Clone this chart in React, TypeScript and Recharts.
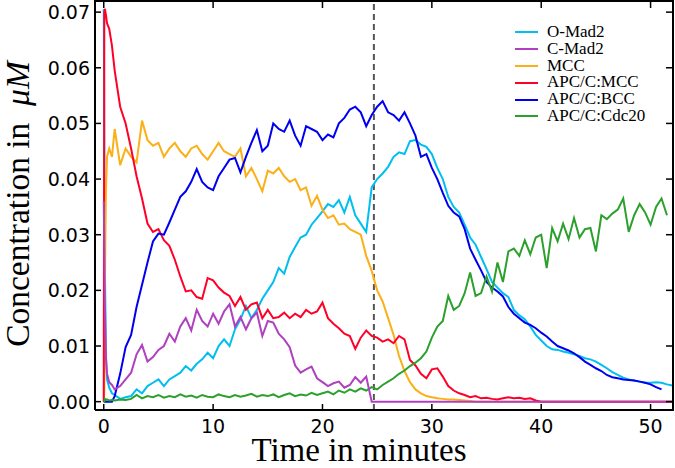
import React from 'react';
import { LineChart, Line, XAxis, YAxis, ReferenceLine, Legend } from 'recharts';

// time in minutes (finer steps at the very start, where the curves jump)
const time = [
  0, 0.05, 0.1, 0.2, 0.3, 0.5, 0.75,
  1, 1.5, 2, 2.5, 3, 3.5, 4, 4.5, 5, 5.5,
  6, 6.5, 7, 7.5, 8, 8.5, 9, 9.5, 10, 10.5,
  11, 11.5, 12, 12.5, 13, 13.5, 14, 14.5, 15, 15.5,
  16, 16.5, 17, 17.5, 18, 18.5, 19, 19.5, 20, 20.5,
  21, 21.5, 22, 22.5, 23, 23.5, 24, 24.5, 25, 25.5,
  26, 26.5, 27, 27.5, 28, 28.5, 29, 29.5, 30, 30.5,
  31, 31.5, 32, 32.5, 33, 33.5, 34, 34.5, 35, 35.5,
  36, 36.5, 37, 37.5, 38, 38.5, 39, 39.5, 40, 40.5,
  41, 41.5, 42, 42.5, 43, 43.5, 44, 44.5, 45, 45.5,
  46, 46.5, 47, 47.5, 48, 48.5, 49, 49.5, 50, 50.5,
  51, 51.5, 52,
];

const oMad2 = [
  0.0705, 0.05, 0.025, 0.008, 0.004, 0.0025, 0.0015,
  0.0012, 0.0005, 0.0008, 0.001, 0.0022, 0.0015, 0.0028, 0.0034, 0.004, 0.0028,
  0.004, 0.0046, 0.0052, 0.0064, 0.0056, 0.0068, 0.0076, 0.0088, 0.0078, 0.01,
  0.0112, 0.01, 0.013, 0.0148, 0.0172, 0.015, 0.0165, 0.0185, 0.02, 0.0215,
  0.024, 0.023, 0.026, 0.0278, 0.0295, 0.03, 0.0318, 0.033, 0.0342, 0.0355,
  0.035, 0.0362, 0.034, 0.0368, 0.0335, 0.032, 0.0305, 0.0385, 0.04, 0.041,
  0.0422, 0.044, 0.0448, 0.0445, 0.0468, 0.047, 0.0462, 0.0458, 0.0445, 0.042,
  0.04, 0.0368, 0.035, 0.034, 0.0318, 0.0295, 0.0282, 0.026, 0.0238, 0.0215,
  0.0205, 0.0195, 0.0188, 0.0165, 0.0155, 0.0148, 0.0135, 0.012, 0.011, 0.01,
  0.0094, 0.0093, 0.009, 0.0088, 0.0085, 0.0082, 0.0078, 0.0076, 0.0072, 0.0066,
  0.006, 0.0053, 0.0048, 0.0043, 0.004, 0.0038, 0.0036, 0.0034, 0.0034, 0.0035,
  0.0034, 0.0031, 0.0029,
];

const cMad2 = [
  0.036, 0.028, 0.018, 0.008, 0.005, 0.0035, 0.003,
  0.0022, 0.0028, 0.004, 0.0052, 0.0085, 0.0102, 0.0072, 0.008, 0.0093, 0.01,
  0.0122, 0.0108, 0.0135, 0.015, 0.0128, 0.0165, 0.0145, 0.0135, 0.0158, 0.014,
  0.0162, 0.0175, 0.0135, 0.0152, 0.013, 0.015, 0.016, 0.0118, 0.0145, 0.0142,
  0.0122, 0.0112, 0.0098, 0.0065, 0.0052, 0.0058, 0.0063, 0.0042, 0.0035, 0.0028,
  0.0033, 0.0036, 0.0025, 0.003, 0.0044, 0.0034, 0.0045, 0, 0, 0,
  0, 0, 0, 0, 0, 0, 0, 0, 0, 0,
  0, 0, 0, 0, 0, 0, 0, 0, 0, 0,
  0, 0, 0, 0, 0, 0, 0, 0, 0, 0,
  0, 0, 0, 0, 0, 0, 0, 0, 0, 0,
  0, 0, 0, 0, 0, 0, 0, 0, 0, 0,
  0, 0, 0,
];

const mcc = [
  0, 0.002, 0.02, 0.038, 0.044, 0.0455, 0.044,
  0.049, 0.0425, 0.0455, 0.044, 0.043, 0.0505, 0.047, 0.046, 0.0465, 0.044,
  0.0455, 0.0465, 0.045, 0.044, 0.0455, 0.046, 0.0445, 0.0435, 0.045, 0.0465,
  0.045, 0.0445, 0.044, 0.0455, 0.0405, 0.042, 0.04, 0.0378, 0.0415, 0.041,
  0.042, 0.0405, 0.0395, 0.04, 0.038, 0.0385, 0.0352, 0.037, 0.0345, 0.033,
  0.0335, 0.0318, 0.032, 0.031, 0.0305, 0.03, 0.0262, 0.0235, 0.02, 0.018,
  0.015, 0.012, 0.0082, 0.0055, 0.0035, 0.0022, 0.0015, 0.001, 0.0008, 0.0006,
  0.0005, 0.0004, 0.0004, 0.0003, 0.0002, 0.0001, 0, 0, 0, 0,
  0, 0, 0, 0, 0, 0, 0, 0, 0, 0,
  0, 0, 0, 0, 0, 0, 0, 0, 0, 0,
  0, 0, 0, 0, 0, 0, 0, 0, 0, 0,
  0, 0, 0,
];

const apcMcc = [
  0, 0.07, 0.0706, 0.0695, 0.068, 0.067, 0.064,
  0.0595, 0.053, 0.05, 0.0455, 0.0405, 0.0365, 0.032, 0.0305, 0.031, 0.029,
  0.028, 0.0255, 0.0225, 0.0198, 0.02, 0.0188, 0.0185, 0.0222, 0.0218, 0.0205,
  0.0196, 0.019, 0.0172, 0.0188, 0.0165, 0.0175, 0.0178, 0.015, 0.0165, 0.015,
  0.0152, 0.016, 0.015, 0.0158, 0.0152, 0.0165, 0.0158, 0.0162, 0.0178, 0.015,
  0.014, 0.0132, 0.0122, 0.0118, 0.0095, 0.0115, 0.0128, 0.0118, 0.0115, 0.0108,
  0.0112, 0.0105, 0.0118, 0.0112, 0.0075, 0.0065, 0.005, 0.0042, 0.0058, 0.006,
  0.0045, 0.0028, 0.002, 0.0015, 0.0012, 0.0008, 0.001, 0.0006, 0.0007, 0.0005,
  0.0004, 0.0006, 0.0008, 0.0006, 0.0007, 0.0005, 0.0006, 0.0002, 0, 0,
  0, 0, 0, 0, 0, 0, 0, 0, 0, 0,
  0, 0, 0, 0, 0, 0, 0, 0, 0, 0,
  0, 0, 0,
];

const apcBcc = [
  0, 0, 0, 0, 0, 0, 0,
  0.001, 0.005, 0.0098, 0.012, 0.017, 0.021, 0.025, 0.0288, 0.0302, 0.03,
  0.0322, 0.0345, 0.0368, 0.0378, 0.0395, 0.0418, 0.0395, 0.0385, 0.038, 0.0405,
  0.042, 0.0435, 0.0438, 0.0412, 0.044, 0.0465, 0.0488, 0.045, 0.046, 0.05,
  0.049, 0.0485, 0.0505, 0.0478, 0.046, 0.0495, 0.049, 0.0485, 0.047, 0.048,
  0.0475, 0.05, 0.051, 0.0525, 0.053, 0.052, 0.0495, 0.0515, 0.053, 0.054,
  0.052, 0.0515, 0.0505, 0.052, 0.05, 0.0478, 0.044, 0.0445, 0.042, 0.04,
  0.0375, 0.0352, 0.034, 0.0333, 0.031, 0.0275, 0.0255, 0.0236, 0.0215, 0.0205,
  0.0198, 0.0189, 0.017, 0.0158, 0.015, 0.0142, 0.0138, 0.0132, 0.0124, 0.0117,
  0.0108, 0.01, 0.0096, 0.0092, 0.0087, 0.008, 0.0072, 0.0066, 0.006, 0.0055,
  0.0048, 0.0044, 0.0042, 0.004, 0.0039, 0.0038, 0.0036, 0.0034, 0.0031, 0.0026,
  0.0022, null, null,
];

const cdc20 = [
  0, 0, 0.0005, 0.0003, 0.0004, 0.0002, 0.0003,
  0.0002, 0.0004, 0.0003, 0.0005, 0.0012, 0.0006, 0.001, 0.0008, 0.0012, 0.0007,
  0.001, 0.0008, 0.0013, 0.0009, 0.0011, 0.0007, 0.0012, 0.0009, 0.0008, 0.0013,
  0.001, 0.0008, 0.0012, 0.0009, 0.0011, 0.0014, 0.0009, 0.0012, 0.001, 0.0013,
  0.0008, 0.0012, 0.0015, 0.001, 0.0013, 0.0011, 0.0016, 0.0012, 0.0015, 0.0018,
  0.0013, 0.002, 0.0016, 0.0022, 0.0018, 0.0024, 0.002, 0.0026, 0.0022, 0.003,
  0.0036, 0.0042, 0.005, 0.0056, 0.0064, 0.007, 0.0078, 0.009, 0.0115, 0.0135,
  0.0145, 0.019, 0.0165, 0.0172, 0.0195, 0.0232, 0.019, 0.0195, 0.0225, 0.0198,
  0.025, 0.0215, 0.027, 0.0275, 0.0262, 0.029, 0.0265, 0.0295, 0.03, 0.024,
  0.0312, 0.0288, 0.032, 0.0292, 0.033, 0.0295, 0.031, 0.0312, 0.027, 0.0335,
  0.0328, 0.0338, 0.0345, 0.0365, 0.0305, 0.0335, 0.0355, 0.034, 0.0318, 0.035,
  0.0365, 0.0335, null,
];

const xDomain = [-0.8, 52.05];
const yDomain = [-0.0015, 0.072];
const xTicks = [0, 10, 20, 30, 40, 50];
const yTicks = [0, 0.01, 0.02, 0.03, 0.04, 0.05, 0.06, 0.07];
const switchTime = 24.7;

const series = [
  { key: 'oMad2', name: 'O-Mad2', color: '#00bff0', values: oMad2 },
  { key: 'cMad2', name: 'C-Mad2', color: '#b040c0', values: cMad2 },
  { key: 'mcc', name: 'MCC', color: '#fbb017', values: mcc },
  { key: 'apcMcc', name: 'APC/C:MCC', color: '#ff0028', values: apcMcc },
  { key: 'apcBcc', name: 'APC/C:BCC', color: '#0000f0', values: apcBcc },
  { key: 'cdc20', name: 'APC/C:Cdc20', color: '#2ca02c', values: cdc20 },
];

// order the curves are painted in (last one on top)
const drawOrder = ['oMad2', 'mcc', 'apcMcc', 'apcBcc', 'cdc20', 'cMad2'];

const rows = time.map((t, i) => {
  const row: Record<string, number | null> = { t };
  series.forEach((s) => {
    row[s.key] = s.values[i] ?? null;
  });
  return row;
});

// plot box (chart margins + axis sizes)
const W = 675;
const H = 468;
const plotLeft = 95;
const plotTop = 1;
const plotRight = W - 2;
const plotBottom = H - 58;

const tickFont = 'DejaVu Sans';
const serif = 'Liberation Serif';

// bottom tick: inward mark + label, plus the matching mark on the top edge
const BottomTick = (props: any) => {
  const { x, y, payload } = props;
  return (
    <g>
      <line x1={x} x2={x} y1={y} y2={y - 6} stroke="#000" strokeWidth={1.5} />
      <line x1={x} x2={x} y1={plotTop} y2={plotTop + 7} stroke="#000" strokeWidth={1.5} />
      <text x={x} y={y + 23} textAnchor="middle" fontSize={19} fontFamily={tickFont} fill="#000">
        {payload.value}
      </text>
    </g>
  );
};

// left tick: inward mark + label, plus the matching mark on the right edge
const LeftTick = (props: any) => {
  const { x, y, payload } = props;
  return (
    <g>
      <line x1={x} x2={x + 6} y1={y} y2={y} stroke="#000" strokeWidth={1.5} />
      <line x1={plotRight} x2={plotRight - 7} y1={y} y2={y} stroke="#000" strokeWidth={1.5} />
      <text x={x - 5} y={y + 7} textAnchor="end" fontSize={19} fontFamily={tickFont} fill="#000">
        {Number(payload.value).toFixed(2)}
      </text>
    </g>
  );
};

const XLabel = () => (
  <text x={359} y={461} textAnchor="middle" fontSize={33} fontFamily={serif} fill="#000">
    Time in minutes
  </text>
);

const YLabel = () => (
  <text transform="translate(29,204) rotate(-90)" textAnchor="middle" fontSize={33.5} fontFamily={serif} fill="#000">
    {'Concentration in\u00a0\u00a0'}
    <tspan fontStyle="italic">μM</tspan>
  </text>
);

const LegendBox = () => (
  <div style={{ fontFamily: serif, fontSize: 17, color: '#000' }}>
    {series.map((s) => (
      <div key={s.key} style={{ display: 'flex', alignItems: 'center', height: 16.8 }}>
        <span style={{ display: 'inline-block', width: 23, height: 2, background: s.color, marginRight: 9 }} />
        <span style={{ lineHeight: '16.8px', whiteSpace: 'nowrap' }}>{s.name}</span>
      </div>
    ))}
  </div>
);

const App: React.FC = () => {
  const byKey = Object.fromEntries(series.map((s) => [s.key, s]));
  return (
    <div style={{ position: 'absolute', left: 0, top: 0, width: W, height: H, background: '#fff', overflow: 'hidden' }}>
      <LineChart width={W} height={H} data={rows} margin={{ top: plotTop, right: W - plotRight, left: 0, bottom: 0 }}>
        <XAxis
          dataKey="t"
          type="number"
          domain={xDomain}
          ticks={xTicks}
          allowDataOverflow
          height={H - plotBottom}
          axisLine={{ stroke: '#000', strokeWidth: 2 }}
          tickLine={false}
          tickSize={0}
          tickMargin={0}
          tick={<BottomTick />}
          label={<XLabel />}
        />
        <YAxis
          type="number"
          domain={yDomain}
          ticks={yTicks}
          allowDataOverflow
          width={plotLeft}
          axisLine={{ stroke: '#000', strokeWidth: 2 }}
          tickLine={false}
          tickSize={0}
          tickMargin={0}
          tick={<LeftTick />}
          label={<YLabel />}
        />
        <ReferenceLine x={switchTime} stroke="#555555" strokeWidth={2} strokeDasharray="6 4" />
        {drawOrder.map((k) => (
          <Line
            key={k}
            type="linear"
            dataKey={k}
            name={byKey[k].name}
            stroke={byKey[k].color}
            strokeWidth={2}
            dot={false}
            activeDot={false}
            connectNulls={false}
            isAnimationActive={false}
          />
        ))}
        <Legend
          layout="vertical"
          align="center"
          verticalAlign="middle"
          wrapperStyle={{ left: 515, top: 24, width: 158 }}
          content={<LegendBox />}
        />
      </LineChart>
      {/* plot frame (top/right edges), drawn over the chart */}
      <div
        style={{
          position: 'absolute',
          left: plotLeft - 1,
          top: plotTop - 1,
          width: plotRight - plotLeft + 2,
          height: plotBottom - plotTop + 2,
          borderTop: '2px solid #000',
          borderRight: '2px solid #000',
          boxSizing: 'border-box',
          pointerEvents: 'none',
        }}
      />
    </div>
  );
};

export default App;
